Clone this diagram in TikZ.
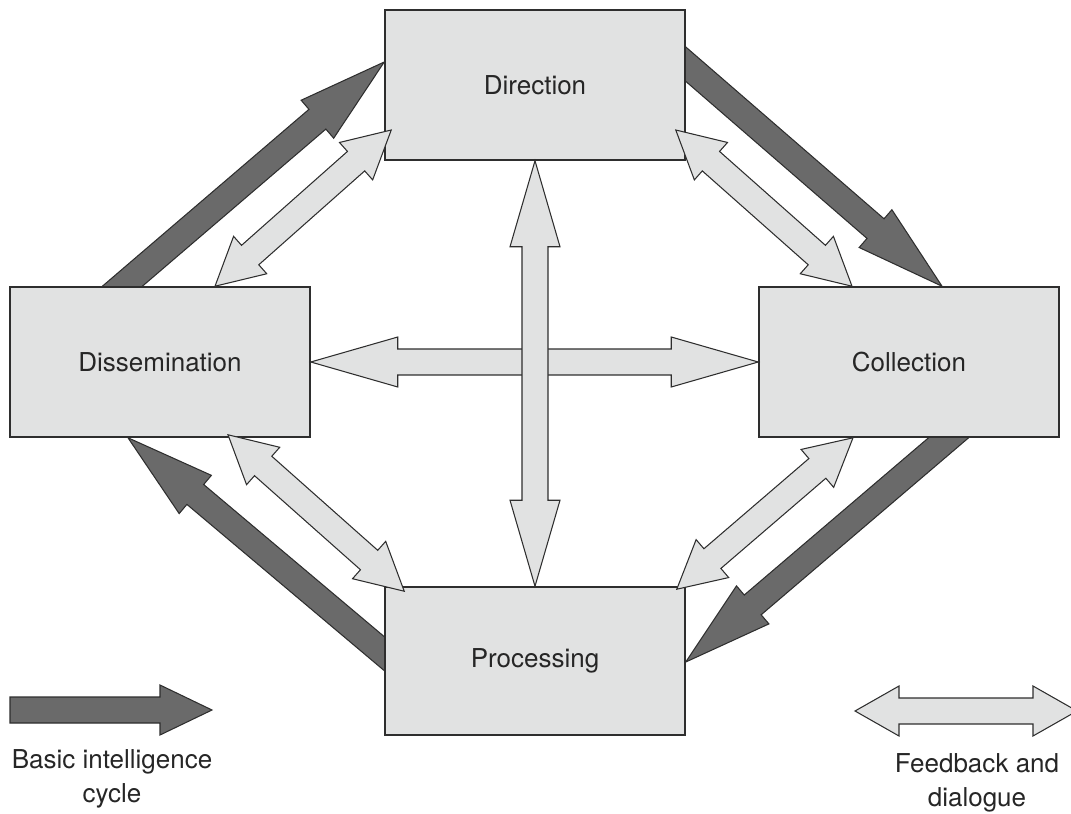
\documentclass[tikz,border=0pt]{standalone}
\usepackage{fontspec}
\setmainfont{TeX Gyre Heros}
\usetikzlibrary{calc,backgrounds}

\definecolor{boxgrey}{HTML}{E1E2E2}
\definecolor{cyclegrey}{HTML}{6A6A6A}
\definecolor{edgegrey}{HTML}{2E2E2E}
\definecolor{textgrey}{HTML}{262626}

% block arrow with one head: [style]{from}{to}{head length}
\newcommand{\cyclearrow}[4][]{%
  \coordinate (hb) at ($(#3)!#4!(#2)$);
  \draw[#1] ($(#2)!0.26cm!90:(#3)$) -- ($(hb)!0.26cm!90:(#3)$) -- ($(hb)!0.5cm!90:(#3)$) -- (#3)
    -- ($(hb)!0.5cm!-90:(#3)$) -- ($(hb)!0.26cm!-90:(#3)$) -- ($(#2)!0.26cm!-90:(#3)$) -- cycle;
}
% block arrow with two heads
\newcommand{\feedbackarrow}[4][]{%
  \coordinate (ha) at ($(#2)!#4!(#3)$);
  \coordinate (hb) at ($(#3)!#4!(#2)$);
  \draw[#1] (#2) -- ($(ha)!0.5cm!90:(#3)$) -- ($(ha)!0.26cm!90:(#3)$) -- ($(hb)!0.26cm!90:(#3)$)
    -- ($(hb)!0.5cm!90:(#3)$) -- (#3) -- ($(hb)!0.5cm!-90:(#3)$) -- ($(hb)!0.26cm!-90:(#3)$)
    -- ($(ha)!0.26cm!-90:(#3)$) -- ($(ha)!0.5cm!-90:(#3)$) -- cycle;
}

\begin{document}
\begin{tikzpicture}[
    x=0.02cm, y=-0.02cm,
    box/.style={rectangle, draw=edgegrey, line width=0.9pt, fill=boxgrey, text=textgrey, minimum width=6cm, minimum height=3cm, font=\fontsize{14.8}{19.5}\selectfont},
    cyc/.style={draw=edgegrey, line width=0.6pt, fill=cyclegrey, line join=miter},
    fb/.style={draw=edgegrey, line width=0.6pt, fill=boxgrey, line join=miter},
    legend/.style={align=center, text=textgrey, font=\fontsize{14.8}{19.5}\selectfont}
]
    \useasboundingbox (0,0) rectangle (1071,814);

    % the four stages
    \path (535,85) node[box] (dir) {Direction}
          (160,362) node[box] (dis) {Dissemination}
          (909,362) node[box] (col) {Collection}
          (535,661) node[box, minimum height=2.96cm] (pro) {Processing};

    % basic cycle, tails hidden under the boxes
    \coordinate (c1a) at ($(dir.north east)+(-23,35)$);
    \coordinate (c1b) at ($(col.north)+(33,0)$);
    \coordinate (c2a) at ($(col.south)+(63,-20)$);
    \coordinate (c2b) at ($(pro.east)+(0,1)$);
    \coordinate (c3a) at ($(pro.west)+(23,12)$);
    \coordinate (c3b) at ($(dis.south)+(-32,0)$);
    \coordinate (c4a) at ($(dis.north)+(-61,20)$);
    \coordinate (c4b) at ($(dir.west)+(0,-23)$);
    \begin{scope}[on background layer]
        \cyclearrow[cyc]{c1a}{c1b}{1.76cm}
        \cyclearrow[cyc]{c2a}{c2b}{1.76cm}
        \cyclearrow[cyc]{c3a}{c3b}{1.76cm}
        \cyclearrow[cyc]{c4a}{c4b}{1.76cm}
    \end{scope}

    % feedback between neighbours
    \coordinate (f1a) at ($(dis.north)+(55,0)$);
    \coordinate (f1b) at ($(dir.west)+(7,45)$);
    \coordinate (f2a) at ($(dir.east)+(-10,45)$);
    \coordinate (f2b) at ($(col.north)+(-57,0)$);
    \coordinate (f3a) at ($(col.south)+(-56,0)$);
    \coordinate (f3b) at ($(pro.north east)+(-9,3)$);
    \coordinate (f4a) at ($(dis.south)+(68,-3)$);
    \coordinate (f4b) at ($(pro.north west)+(20,5)$);
    \feedbackarrow[fb]{f1a}{f1b}{0.94cm}
    \feedbackarrow[fb]{f2a}{f2b}{0.94cm}
    \feedbackarrow[fb]{f3a}{f3b}{0.94cm}
    \feedbackarrow[fb]{f4a}{f4b}{0.94cm}

    % across the middle
    \feedbackarrow[fb]{dis.east}{col.west}{1.74cm}
    \feedbackarrow[fb]{dir.south}{pro.north}{1.72cm}

    % key
    \coordinate (k1a) at (10,710);
    \coordinate (k1b) at (212,710);
    \coordinate (k2a) at (855,711);
    \coordinate (k2b) at (1077,711);
    \cyclearrow[cyc]{k1a}{k1b}{1.04cm}
    \feedbackarrow[fb]{k2a}{k2b}{0.88cm}
    \node[legend] (k1text) at (112,779) {Basic intelligence\\cycle};
    \node[legend] (k2text) at (977,783) {Feedback and\\dialogue};
\end{tikzpicture}
\end{document}
